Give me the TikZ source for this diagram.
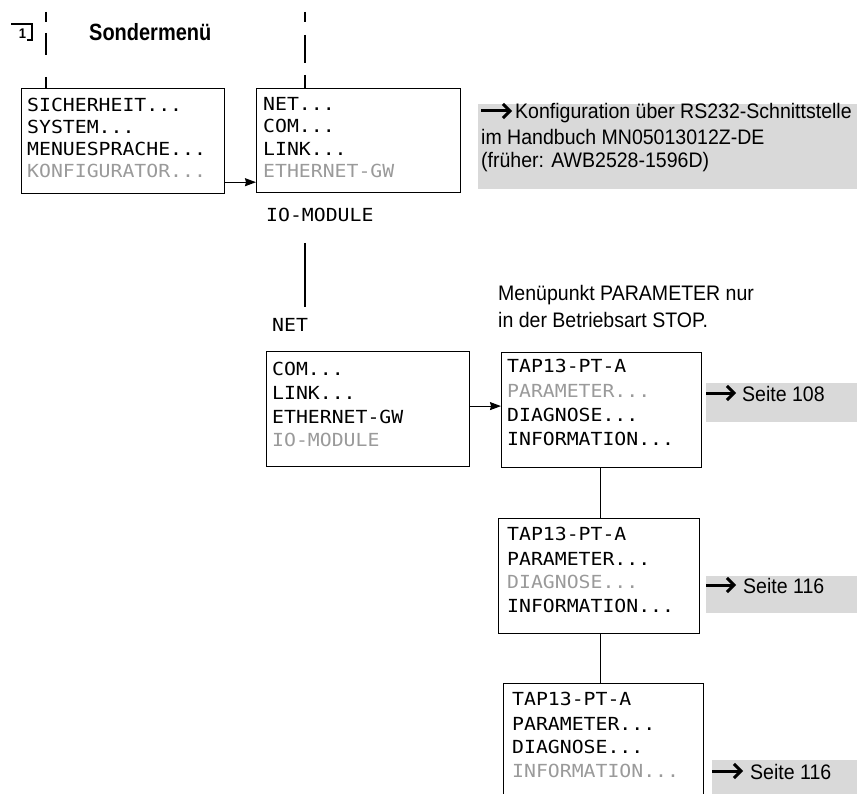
\documentclass[tikz,border=0pt]{standalone}
\usepackage{fontspec}
\setmainfont{Liberation Sans}[FakeStretch=0.93]
\newfontfamily\titlefont{Liberation Sans}[FakeStretch=0.85]
\newfontfamily\lcdfont{DejaVu Sans Mono}[FakeStretch=1.1]
\usetikzlibrary{arrows.meta}
\definecolor{shade}{HTML}{D9D9D9}
\definecolor{dim}{HTML}{9A9A9A}
\begin{document}
\begin{tikzpicture}[x=1pt,y=-1pt,
  box/.style={draw, line width=1.2pt, anchor=north west, inner sep=0pt},
  lcd/.style={anchor=base west, inner sep=0pt, font=\lcdfont\fontsize{18}{22}\selectfont},
  lcdoff/.style={lcd, text=dim},
  body/.style={anchor=base west, inner sep=0pt, font=\fontsize{21}{24}\selectfont},
  shadebox/.style={fill=shade, draw=none, anchor=north west, inner sep=0pt},
  link/.style={line width=1.1pt,-{Stealth[length=11pt,width=8pt,inset=1pt]}},
  conn/.style={line width=1.1pt},
  refarrow/.style={line width=3pt,-{Straight Barb[length=7pt,width=14pt]}},
  guide/.style={line width=1.1pt}
]
\useasboundingbox (0,0) rectangle (857,794);
\clip (0,0) rectangle (857,794);

% marker and title
\node[anchor=base, inner sep=0pt, font=\bfseries\fontsize{14}{14}\selectfont] (mk) at (22.5,39) {1};
\draw[line width=1.1pt] (11,24) -- (32,24) -- (32,40) -- (27,40);
\node[anchor=base west, inner sep=0pt, font=\titlefont\bfseries\fontsize{23.5}{26}\selectfont] (title) at (89,41) {Sondermenü};

% dashed guides
\coordinate (d1a) at (46,12); \coordinate (d1b) at (46,88);
\coordinate (d2a) at (305,12); \coordinate (d2b) at (305,88);
\draw[guide, dash pattern=on 10pt off 11pt on 22pt off 22pt on 11pt] (d1a) -- (d1b);
\draw[guide, dash pattern=on 10pt off 13pt on 28pt off 12pt on 13pt] (d2a) -- (d2b);

% box 1
\node[box, minimum width=203pt, minimum height=105pt] (b1) at (21,88) {};
\node[lcd] (b1l1) at (27,112) {SICHERHEIT...};
\node[lcd] (b1l2) at (27,133.5) {SYSTEM...};
\node[lcd] (b1l3) at (27,155.5) {MENUESPRACHE...};
\node[lcdoff] (b1l4) at (27,178) {KONFIGURATOR...};

% box 2
\node[box, minimum width=204pt, minimum height=104pt] (b2) at (256,88) {};
\node[lcd] (b2l1) at (263,111) {NET...};
\node[lcd] (b2l2) at (263,133) {COM...};
\node[lcd] (b2l3) at (263,155.5) {LINK...};
\node[lcdoff] (b2l4) at (263,178) {ETHERNET-GW};

\draw[link] ([yshift=12pt]b1.south east) -- ([yshift=12pt]b1.south east -| b2.west);

% info box 1
\node[shadebox, minimum width=379pt, minimum height=85pt] (g1) at (478,104) {};
\coordinate (g1a) at (481,111); \coordinate (g1b) at (512,111);
\draw[refarrow] (g1a) -- (g1b);
\node[body] (g1t1) at (515,119) {Konfiguration über RS232-Schnittstelle};
\node[body] (g1t2) at (481,145) {im Handbuch MN05013012Z-DE};
\node[body] (g1t3) at (481,168) {(früher: AWB2528-1596D)};

% IO-MODULE / NET
\node[lcd] (io) at (266,222) {IO-MODULE};
\coordinate (v1a) at (305,243); \coordinate (v1b) at (305,307);
\draw[conn] (v1a) -- (v1b);
\node[lcd] (net) at (272,332) {NET};

% box 3
\node[box, minimum width=203pt, minimum height=115pt] (b3) at (266,351) {};
\node[lcd] (b3l1) at (272,376) {COM...};
\node[lcd] (b3l2) at (272,399.5) {LINK...};
\node[lcd] (b3l3) at (272,423) {ETHERNET-GW};
\node[lcdoff] (b3l4) at (272,446.5) {IO-MODULE};

% note
\node[body] (n1) at (498,301) {Menüpunkt PARAMETER nur};
\node[body] (n2) at (498,327) {in der Betriebsart STOP.};

% box 4
\node[box, minimum width=200pt, minimum height=115pt] (b4) at (501,352) {};
\node[lcd] (b4l1) at (507,373) {TAP13-PT-A};
\node[lcdoff] (b4l2) at (507,397.5) {PARAMETER...};
\node[lcd] (b4l3) at (507,421.5) {DIAGNOSE...};
\node[lcd] (b4l4) at (507,445) {INFORMATION...};

\draw[link] ([yshift=3pt]b3.east) -- ([yshift=3pt]b3.east -| b4.west);

% info 108
\node[shadebox, minimum width=151pt, minimum height=39pt] (g2) at (706,383) {};
\coordinate (g2a) at (706,393); \coordinate (g2b) at (736,393);
\draw[refarrow] (g2a) -- (g2b);
\node[body] (g2t) at (742,401) {Seite 108};

% box 5
\node[box, minimum width=201pt, minimum height=115pt] (b5) at (498,518) {};
\node[lcd] (b5l1) at (507,540) {TAP13-PT-A};
\node[lcd] (b5l2) at (507,565) {PARAMETER...};
\node[lcdoff] (b5l3) at (507,588) {DIAGNOSE...};
\node[lcd] (b5l4) at (507,612) {INFORMATION...};

\draw[conn] ([xshift=-1pt]b4.south) -- ([xshift=-1pt]b4.south |- b5.north);

% info 116 a
\node[shadebox, minimum width=151pt, minimum height=37pt] (g3) at (706,576) {};
\coordinate (g3a) at (706,585); \coordinate (g3b) at (736,585);
\draw[refarrow] (g3a) -- (g3b);
\node[body] (g3t) at (743,593) {Seite 116};

% box 6
\node[box, minimum width=200pt, minimum height=130pt] (b6) at (503,683) {};
\node[lcd] (b6l1) at (512,705) {TAP13-PT-A};
\node[lcd] (b6l2) at (512,730) {PARAMETER...};
\node[lcd] (b6l3) at (512,753) {DIAGNOSE...};
\node[lcdoff] (b6l4) at (512,777) {INFORMATION...};

\draw[conn] ([xshift=1.5pt]b5.south) -- ([xshift=1.5pt]b5.south |- b6.north);

% info 116 b
\node[shadebox, minimum width=145pt, minimum height=50pt] (g4) at (712,760) {};
\coordinate (g4a) at (712,771); \coordinate (g4b) at (743,771);
\draw[refarrow] (g4a) -- (g4b);
\node[body] (g4t) at (750,779) {Seite 116};
\end{tikzpicture}
\end{document}
